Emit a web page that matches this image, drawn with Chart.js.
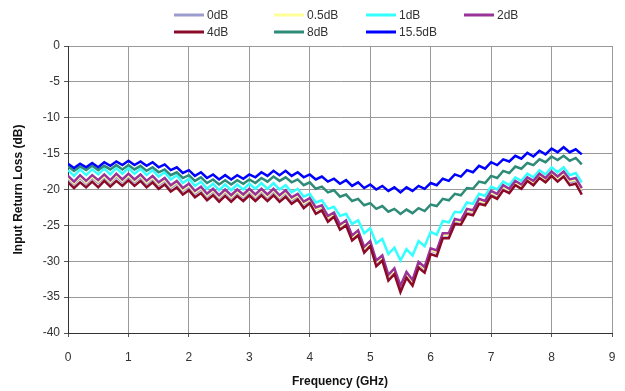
<!DOCTYPE html>
<html>
<head>
<meta charset="utf-8">
<script src="https://cdn.jsdelivr.net/npm/chart.js@4.4.1/dist/chart.umd.min.js"></script>
<style>
  html, body { margin: 0; padding: 0; background: #fff; }
  #wrap { width: 625px; height: 391px; }
</style>
</head>
<body>
<div id="wrap"><canvas id="chart" width="625" height="391"></canvas></div>
<script>
// Frequency points (GHz)
const freq = [
  0.0, 0.1, 0.2, 0.3, 0.4, 0.5, 0.6, 0.7, 0.8, 0.9,
  1.0, 1.1, 1.2, 1.3, 1.4, 1.5, 1.6, 1.7, 1.8, 1.9,
  2.0, 2.1, 2.2, 2.3, 2.4, 2.5, 2.6, 2.7, 2.8, 2.9,
  3.0, 3.1, 3.2, 3.3, 3.4, 3.5, 3.6, 3.7, 3.8, 3.9,
  4.0, 4.1, 4.2, 4.3, 4.4, 4.5, 4.6, 4.7, 4.8, 4.9,
  5.0, 5.1, 5.2, 5.3, 5.4, 5.5, 5.6, 5.7, 5.8, 5.9,
  6.0, 6.1, 6.2, 6.3, 6.4, 6.5, 6.6, 6.7, 6.8, 6.9,
  7.0, 7.1, 7.2, 7.3, 7.4, 7.5, 7.6, 7.7, 7.8, 7.9,
  8.0, 8.1, 8.2, 8.3, 8.4, 8.5
]

// Input return loss (dB) per attenuation setting
const loss0dB = [
  -18.5, -19.3, -18.4, -19.2, -18.4, -19.1, -18.3, -19.1, -18.2, -19.0,
  -18.2, -19.0, -18.3, -19.2, -18.5, -19.4, -18.8, -19.8, -19.2, -20.2,
  -19.6, -20.6, -20.0, -21.0, -20.3, -21.2, -20.4, -21.2, -20.4, -21.1,
  -20.3, -21.1, -20.3, -21.1, -20.3, -21.2, -20.5, -21.5, -21.0, -22.1,
  -21.5, -22.8, -22.5, -24.0, -23.5, -25.2, -24.6, -26.7, -26.0, -28.3,
  -27.5, -30.2, -29.5, -32.2, -31.3, -33.7, -31.8, -32.9, -30.4, -31.1,
  -28.5, -28.8, -26.4, -26.4, -24.4, -24.6, -23.0, -23.2, -21.6, -21.9,
  -20.6, -21.0, -19.8, -20.3, -19.2, -19.7, -18.7, -19.2, -18.2, -18.8,
  -17.9, -18.6, -17.9, -19.0, -18.8, -20.2
]
const loss05dB = [
  -18.3, -19.1, -18.2, -19.0, -18.2, -18.9, -18.1, -18.9, -18.0, -18.8,
  -18.0, -18.8, -18.1, -19.0, -18.3, -19.2, -18.6, -19.6, -19.0, -20.0,
  -19.4, -20.4, -19.8, -20.8, -20.1, -21.0, -20.2, -21.0, -20.2, -20.9,
  -20.1, -20.9, -20.1, -20.9, -20.1, -21.0, -20.3, -21.3, -20.8, -21.9,
  -21.4, -22.7, -22.4, -23.9, -23.4, -25.1, -24.5, -26.6, -25.9, -28.2,
  -27.4, -30.1, -29.4, -32.1, -31.2, -33.6, -31.7, -32.8, -30.3, -31.0,
  -28.4, -28.7, -26.3, -26.3, -24.3, -24.5, -22.9, -23.1, -21.5, -21.8,
  -20.4, -20.8, -19.6, -20.1, -19.0, -19.5, -18.5, -19.0, -18.0, -18.6,
  -17.7, -18.4, -17.7, -18.8, -18.6, -20.0
]
const loss1dB = [
  -17.3, -18.1, -17.2, -18.0, -17.2, -17.9, -17.1, -17.9, -17.0, -17.8,
  -17.0, -17.8, -17.1, -18.0, -17.3, -18.2, -17.6, -18.6, -18.0, -19.1,
  -18.5, -19.5, -18.9, -19.9, -19.2, -20.1, -19.3, -20.1, -19.3, -20.0,
  -19.2, -19.9, -19.1, -19.9, -19.1, -20.0, -19.4, -20.4, -19.9, -21.0,
  -20.6, -21.8, -21.5, -22.7, -22.4, -23.7, -23.4, -24.8, -24.3, -26.1,
  -25.4, -27.5, -26.9, -29.0, -28.1, -29.9, -28.3, -29.2, -27.2, -27.9,
  -25.9, -26.3, -24.4, -24.6, -23.1, -23.2, -21.8, -22.0, -20.6, -20.9,
  -19.6, -20.0, -18.9, -19.4, -18.3, -18.8, -17.8, -18.3, -17.3, -17.9,
  -16.9, -17.6, -16.9, -18.0, -17.7, -19.0
]
const loss2dB = [
  -18.1, -18.9, -18.0, -18.8, -18.0, -18.7, -17.9, -18.7, -17.8, -18.6,
  -17.8, -18.6, -17.9, -18.8, -18.1, -19.0, -18.4, -19.4, -18.8, -19.8,
  -19.2, -20.2, -19.6, -20.6, -19.9, -20.8, -20.0, -20.8, -20.0, -20.7,
  -19.9, -20.7, -19.9, -20.7, -19.9, -20.8, -20.1, -21.1, -20.6, -21.7,
  -21.2, -22.5, -22.2, -23.7, -23.2, -24.9, -24.3, -26.4, -25.7, -28.0,
  -27.2, -29.9, -29.2, -31.9, -31.0, -33.4, -31.5, -32.6, -30.1, -30.8,
  -28.2, -28.5, -26.1, -26.1, -24.1, -24.3, -22.7, -22.9, -21.3, -21.6,
  -20.2, -20.6, -19.4, -19.9, -18.8, -19.3, -18.3, -18.8, -17.8, -18.4,
  -17.5, -18.2, -17.5, -18.6, -18.4, -19.8
]
const loss4dB = [
  -19.0, -19.8, -19.0, -19.7, -18.9, -19.7, -18.8, -19.6, -18.8, -19.5,
  -18.7, -19.5, -18.8, -19.7, -19.0, -19.9, -19.3, -20.3, -19.7, -20.7,
  -20.1, -21.1, -20.5, -21.5, -20.8, -21.7, -20.9, -21.7, -20.9, -21.6,
  -20.8, -21.6, -20.8, -21.6, -20.8, -21.7, -21.0, -22.0, -21.4, -22.6,
  -21.9, -23.4, -22.9, -24.5, -23.8, -25.6, -25.0, -27.1, -26.4, -28.8,
  -27.9, -30.7, -29.9, -32.7, -31.8, -34.3, -32.3, -33.4, -30.9, -31.6,
  -29.0, -29.3, -26.8, -26.8, -24.8, -24.9, -23.4, -23.6, -22.0, -22.2,
  -20.9, -21.3, -20.1, -20.5, -19.4, -19.9, -18.8, -19.4, -18.4, -19.0,
  -18.1, -18.9, -18.2, -19.4, -19.2, -20.7
]
const loss8dB = [
  -16.8, -17.4, -16.8, -17.3, -16.7, -17.3, -16.7, -17.2, -16.6, -17.2,
  -16.6, -17.2, -16.7, -17.4, -16.9, -17.6, -17.2, -18.0, -17.6, -18.4,
  -18.0, -18.8, -18.3, -19.1, -18.6, -19.3, -18.7, -19.3, -18.7, -19.2,
  -18.6, -19.1, -18.4, -18.9, -18.2, -18.8, -18.3, -19.0, -18.6, -19.4,
  -19.0, -19.9, -19.6, -20.4, -20.1, -21.0, -20.7, -21.6, -21.3, -22.2,
  -21.9, -22.7, -22.3, -23.1, -22.7, -23.4, -22.8, -23.3, -22.6, -23.0,
  -22.1, -22.3, -21.3, -21.5, -20.6, -20.8, -19.8, -19.9, -18.9, -19.1,
  -18.1, -18.4, -17.4, -17.7, -16.8, -17.1, -16.3, -16.6, -15.8, -16.2,
  -15.4, -15.9, -15.3, -16.0, -15.6, -16.5
]
const loss155dB = [
  -16.4, -17.0, -16.4, -16.9, -16.3, -16.9, -16.2, -16.7, -16.1, -16.6,
  -16.0, -16.6, -16.1, -16.7, -16.2, -16.9, -16.5, -17.3, -16.9, -17.7,
  -17.3, -18.1, -17.6, -18.4, -17.9, -18.6, -18.0, -18.6, -18.0, -18.5,
  -17.9, -18.3, -17.6, -18.1, -17.4, -18.0, -17.4, -18.1, -17.6, -18.3,
  -17.9, -18.6, -18.2, -18.9, -18.5, -19.2, -18.7, -19.5, -19.0, -19.8,
  -19.3, -20.0, -19.5, -20.2, -19.7, -20.4, -19.7, -20.2, -19.5, -19.9,
  -19.1, -19.4, -18.5, -18.8, -17.9, -18.2, -17.3, -17.6, -16.7, -17.1,
  -16.2, -16.6, -15.8, -16.1, -15.3, -15.7, -14.9, -15.4, -14.6, -15.1,
  -14.3, -14.8, -14.1, -14.8, -14.4, -15.1
]

const seriesNames = ["0dB", "0.5dB", "1dB", "2dB", "4dB", "8dB", "15.5dB"]
const seriesValues = [loss0dB, loss05dB, loss1dB, loss2dB, loss4dB, loss8dB, loss155dB]
const seriesColors = ["#9c9ccf", "#ffff99", "#33ffff", "#993399", "#8b0a28", "#2e8b77", "#0000ff"]

const xTicks = [0, 1, 2, 3, 4, 5, 6, 7, 8, 9]
const yTicks = [0, -5, -10, -15, -20, -25, -30, -35, -40]

const fontFamily = "'Liberation Sans', Arial, sans-serif"

// Legend laid out in a grid like the original spreadsheet chart
const gridLegend = {
  id: "gridLegend",
  afterDraw(chart) {
    const ctx = chart.ctx
    const cols = [174, 274, 366, 464]
    const rows = [15, 32]
    ctx.save()
    ctx.font = "12px " + fontFamily
    ctx.textBaseline = "middle"
    ctx.textAlign = "left"
    chart.data.datasets.forEach((ds, i) => {
      const x = cols[i % 4]
      const y = rows[Math.floor(i / 4)]
      ctx.strokeStyle = ds.borderColor
      ctx.lineWidth = 3
      ctx.beginPath()
      ctx.moveTo(x, y)
      ctx.lineTo(x + 30, y)
      ctx.stroke()
      ctx.fillStyle = "#333"
      ctx.fillText(ds.label, x + 33, y + 1)
    })
    ctx.restore()
  },
}

const datasets = seriesNames.map((name, i) => ({
  label: name,
  data: freq.map((f, k) => ({ x: f, y: seriesValues[i][k] })),
  borderColor: seriesColors[i],
  backgroundColor: seriesColors[i],
  borderWidth: 2.5,
  pointRadius: 0,
  tension: 0,
  order: seriesNames.length - i,
}))

new Chart(document.getElementById("chart"), {
  type: "line",
  data: { datasets },
  plugins: [gridLegend],
  options: {
    responsive: false,
    animation: false,
    layout: { padding: { top: 46, right: 13, bottom: 0, left: 0 } },
    plugins: {
      legend: { display: false },
      tooltip: { enabled: false },
    },
    scales: {
      x: {
        type: "linear",
        min: 0,
        max: 9,
        afterBuildTicks: (scale) => {
          scale.ticks = xTicks.map((v) => ({ value: v }))
        },
        afterFit: (scale) => {
          scale.height = 58
          scale.paddingLeft = 0
          scale.paddingRight = 0
        },
        grid: { color: "#999", tickLength: 4, tickColor: "#555" },
        border: { color: "#333", width: 1 },
        ticks: { color: "#333", padding: 13, maxRotation: 0, font: { size: 12, family: fontFamily } },
        title: {
          display: true,
          text: "Frequency (GHz)",
          color: "#111",
          font: { size: 12, weight: "bold", family: fontFamily },
          padding: { top: 2, bottom: 2 },
        },
      },
      y: {
        min: -40,
        max: 0,
        afterBuildTicks: (scale) => {
          scale.ticks = yTicks.map((v) => ({ value: v }))
        },
        afterFit: (scale) => {
          scale.width = 68
        },
        grid: { color: "#999", tickLength: 4, tickColor: "#555" },
        border: { color: "#333", width: 1 },
        ticks: { color: "#333", padding: 4, font: { size: 12, family: fontFamily } },
        title: {
          display: true,
          text: "Input Return Loss (dB)",
          color: "#111",
          font: { size: 12, weight: "bold", family: fontFamily },
          padding: { top: 11, bottom: 4 },
        },
      },
    },
  },
})
</script>
</body>
</html>
